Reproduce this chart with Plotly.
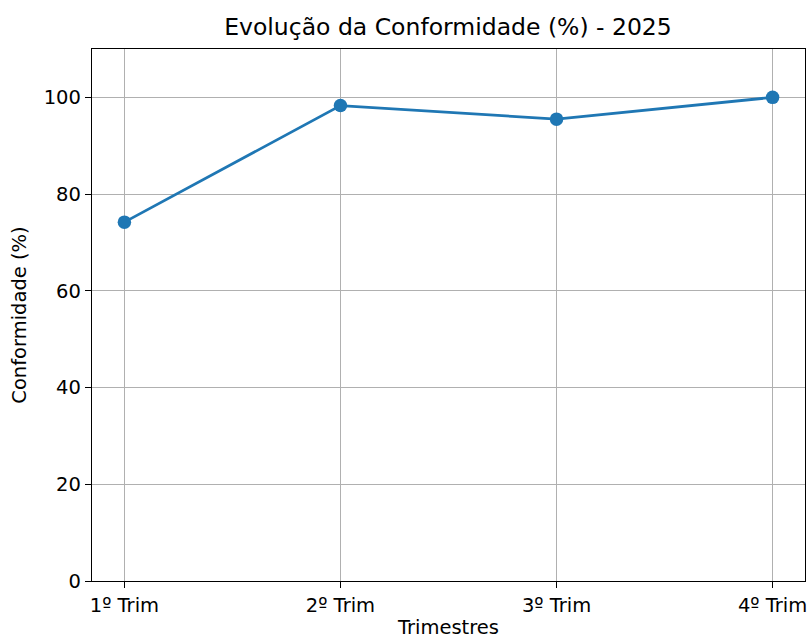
import plotly.graph_objects as go

trimestres = ["1º Trim", "2º Trim", "3º Trim", "4º Trim"]
conformidade = [74.2, 98.3, 95.5, 100.0]

W, H = 810, 639

fig = go.Figure()
fig.add_trace(go.Scatter(
    x=list(range(len(trimestres))), y=conformidade,
    mode="lines+markers",
    line=dict(color="#1f77b4", width=2.8),
    marker=dict(color="#1f77b4", size=13.5),
    showlegend=False,
))

font = "DejaVu Sans"
fig.update_layout(
    width=W, height=H,
    margin=dict(l=92, r=3, t=49, b=58),
    paper_bgcolor="white", plot_bgcolor="white",
    font=dict(family=font, size=19.5, color="black"),
    title=dict(text="Evolução da Conformidade (%) - 2025", x=448 / W, xanchor="center",
               y=1 - 26.5 / H, yanchor="middle", font=dict(size=23.5, family=font, color="black")),
)
fig.update_xaxes(
    range=[-0.15, 3.15], tickmode="array", tickvals=list(range(len(trimestres))),
    ticktext=trimestres, showgrid=True, gridcolor="#b0b0b0", gridwidth=1.4,
    showline=True, linecolor="black", linewidth=1.4, mirror=True,
    ticks="outside", ticklen=6, tickwidth=1.4, tickcolor="black",
    zeroline=False,
    title=dict(text="Trimestres", standoff=6, font=dict(size=19.5, family=font)),
)
fig.update_yaxes(
    range=[0, 110], tickmode="array", tickvals=[0, 20, 40, 60, 80, 100],
    showgrid=True, gridcolor="#b0b0b0", gridwidth=1.4,
    showline=True, linecolor="black", linewidth=1.4, mirror=True,
    ticks="outside", ticklen=6, tickwidth=1.4, tickcolor="black",
    zeroline=False,
    title=dict(text="Conformidade (%)", standoff=11, font=dict(size=19.5, family=font)),
)
fig.write_html(
    "out.html",
    config={"displayModeBar": False},
    post_script="document.body.style.margin='0';document.body.style.overflow='hidden';",
)
